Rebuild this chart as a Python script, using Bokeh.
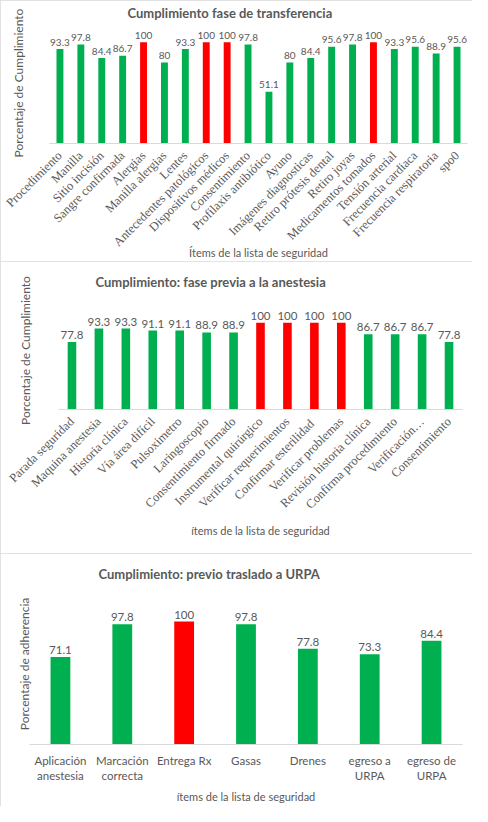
import math
from bokeh.plotting import figure
from bokeh.models import ColumnDataSource, FactorRange, Range1d, FixedTicker
from bokeh.layouts import column
from bokeh.embed import file_html
from bokeh.resources import INLINE
from bokeh.core.properties import value

# ---------------- data ----------------
items1 = ["Procedimiento", "Manilla", "Sitio incisión", "Sangre confirmada", "Alergias",
          "Manilla alergias", "Lentes", "Antecedentes patológicos", "Dispositivos médicos",
          "Consentimiento", "Profilaxis antibiótico", "Ayuno", "Imágenes diagnosticas",
          "Retiro prótesis dental", "Retiro joyas", "Medicamentos tomados", "Tensión arterial",
          "Frecuencia cardiaca", "Frecuencia respiratoria", "spo0"]
vals1 = [93.3, 97.8, 84.4, 86.7, 100, 80, 93.3, 100, 100, 97.8, 51.1, 80, 84.4,
         95.6, 97.8, 100, 93.3, 95.6, 88.9, 95.6]

items2 = ["Parada seguridad", "Maquina anestesia", "Historia clínica", "Vía área difícil",
          "Pulsoximetro", "Laringoscopio", "Consentimiento firmado", "Instrumental quirúrgico",
          "Verificar requerimientos", "Confirmar  esterilidad", "Verificar problemas",
          "Revisión historia clínica", "Confirma procedimiento", "Verificación…", "Consentimiento"]
vals2 = [77.8, 93.3, 93.3, 91.1, 91.1, 88.9, 88.9, 100, 100, 100, 100, 86.7, 86.7, 86.7, 77.8]

items3 = ["Aplicación\nanestesia", "Marcación\ncorrecta", "Entrega Rx", "Gasas", "Drenes",
          "egreso a\nURPA", "egreso de\nURPA"]
vals3 = [71.1, 97.8, 100, 97.8, 77.8, 73.3, 84.4]

titles = ["Cumplimiento fase de transferencia",
          "Cumplimiento: fase previa a la anestesia",
          "Cumplimiento: previo traslado a URPA"]
ylabels = ["Porcentaje de Cumplimiento", "Porcentaje de Cumplimiento", "Porcentaje de adherencia"]
xlabels = ["Ítems de la lista de seguridad", "ítems de la lista de seguridad",
           "ítems de la lista de seguridad"]

GREEN = "#00B050"
RED = "#FF0000"
GRAY = "#595959"
LINE = "#D9D9D9"
SANS = "Lato"
SERIF = "Liberation Serif"
W = 472


def make(items, vals, title, ylab, xlab, height, left, right, top, bottom, y_end,
         bar_w, rotated, lbl_size, title_off, title_standoff, ylab_standoff,
         xlab_standoff, tick_standoff):
    src = ColumnDataSource(dict(
        x=items, v=vals,
        lbl=[f"{v:g}" for v in vals],
        c=[RED if v >= 100 else GREEN for v in vals]))
    p = figure(x_range=FactorRange(factors=items), y_range=Range1d(0, y_end),
               width=W, height=height, output_backend="svg", toolbar_location=None,
               min_border_left=left, min_border_right=W - right,
               min_border_top=top, min_border_bottom=bottom,
               frame_align=False,
               styles={"outline": "1px solid #D9D9D9", "outline-offset": "-1px"})
    p.vbar(x="x", top="v", width=bar_w, color="c", line_color=None, source=src)
    p.text(x="x", y="v", text="lbl", source=src, text_align="center",
           text_baseline="alphabetic", y_offset=-7, text_color=GRAY,
           text_font=value(SANS), text_font_size=lbl_size)

    p.title.text = title
    p.title.align = "left"
    p.title.offset = title_off
    p.title.standoff = title_standoff
    p.title.text_font = SANS
    p.title.text_font_size = "13px"
    p.title.text_font_style = "bold"
    p.title.text_color = GRAY

    p.outline_line_color = None
    p.xgrid.visible = False
    p.ygrid.visible = False

    ya = p.yaxis[0]
    ya.ticker = FixedTicker(ticks=[])
    ya.axis_line_color = None
    ya.major_tick_line_color = None
    ya.minor_tick_line_color = None
    ya.major_tick_out = 0
    ya.major_tick_in = 0
    ya.major_label_standoff = 0
    ya.axis_label = ylab
    ya.axis_label_text_font = SANS
    ya.axis_label_text_font_size = "12px"
    ya.axis_label_text_font_style = "normal"
    ya.axis_label_text_color = GRAY
    ya.axis_label_standoff = ylab_standoff

    xa = p.xaxis[0]
    xa.axis_line_color = LINE
    xa.major_tick_line_color = None
    xa.minor_tick_line_color = None
    xa.major_tick_out = 0
    xa.major_tick_in = 0
    xa.major_label_standoff = tick_standoff
    xa.major_label_text_color = GRAY
    if rotated:
        xa.major_label_orientation = math.pi / 4
        xa.major_label_text_font = SERIF
        xa.major_label_text_font_size = "12.5px"
    else:
        xa.major_label_text_font = SANS
        xa.major_label_text_font_size = "11.5px"
    xa.axis_label = xlab
    xa.axis_label_text_font = SANS
    xa.axis_label_text_font_size = "11px"
    xa.axis_label_text_font_style = "normal"
    xa.axis_label_text_color = GRAY
    xa.axis_label_standoff = xlab_standoff
    return p


# panel 1: frame 49..467 x 20..147 (height 261)
p1 = make(items1, vals1, titles[0], ylabels[0], xlabels[0], 261, 49, 467, 20, 114, 119.5,
          0.33, True, "10px", 78, 4, 24, -11, 10)
# panel 2: frame 58..462 x 30..148 (height 292)
p2 = make(items2, vals2, titles[1], ylabels[1], xlabels[1], 292, 58, 462, 30, 144, 136.1,
          0.32, True, "11.5px", 37, 3, 26, 4, 10)
# panel 3: frame 29..462 x 30..191 (height 253)
p3 = make(items3, vals3, titles[2], ylabels[2], xlabels[2], 253, 29, 462, 30, 62, 130.9,
          0.32, False, "11.5px", 69, 3, -2, 5, 9)

layout = column(p1, p2, p3, spacing=0)
open("out.html", "w").write(file_html(layout, INLINE))
